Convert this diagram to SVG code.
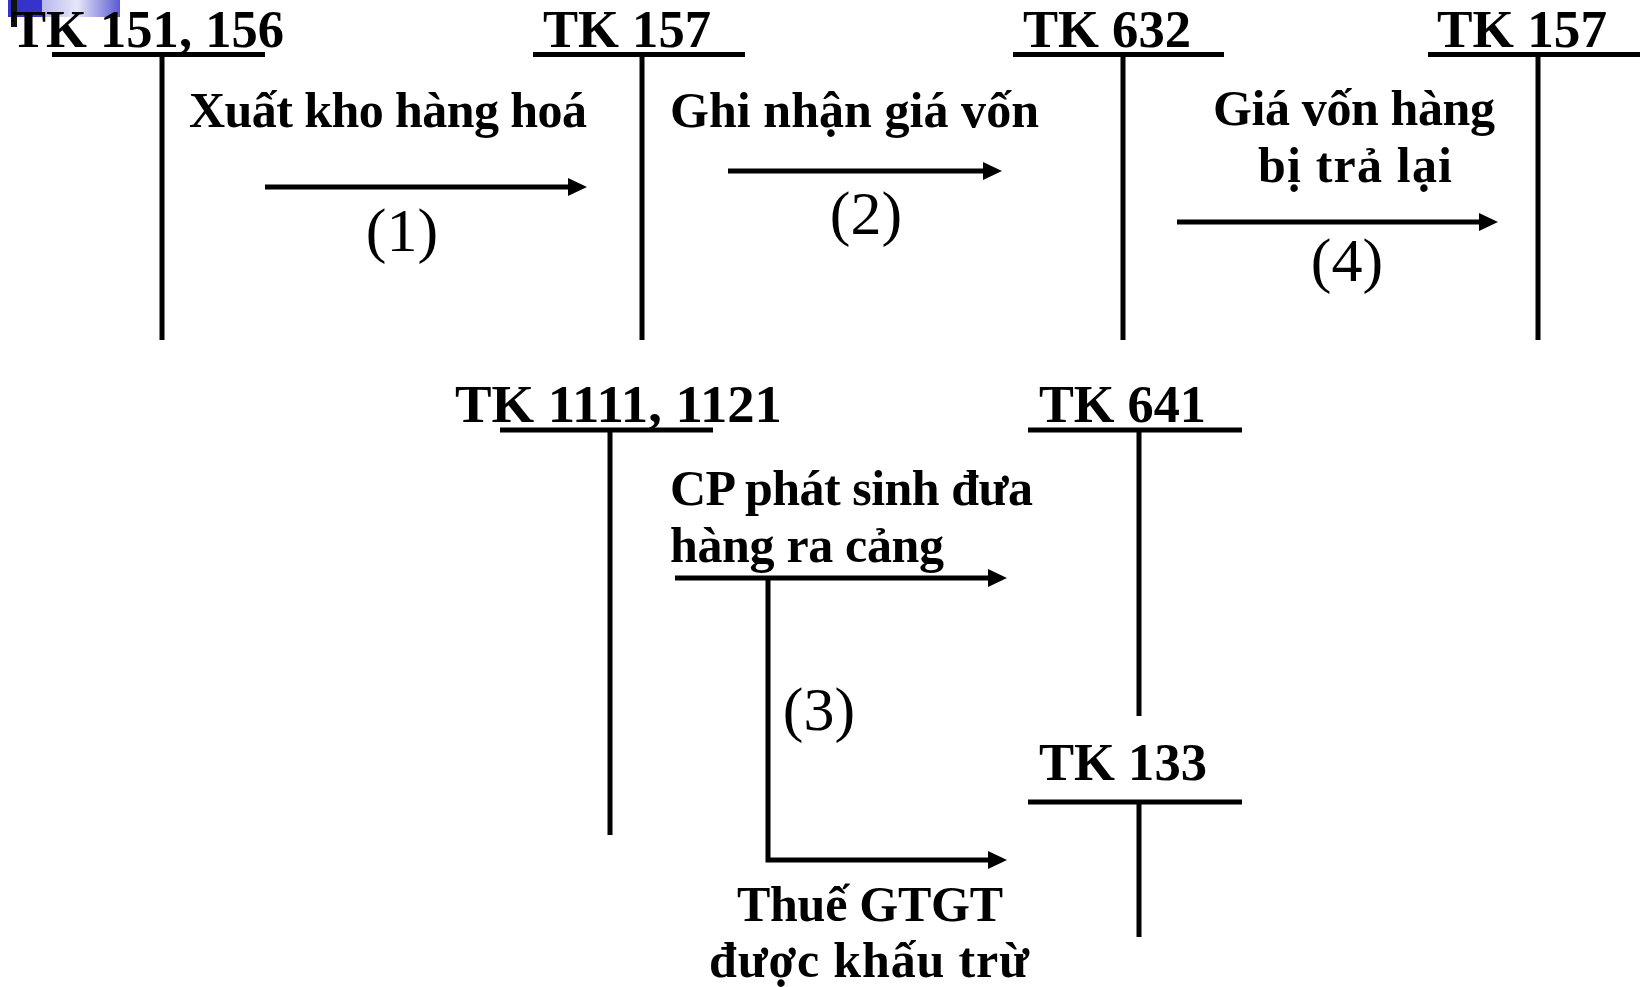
<svg xmlns="http://www.w3.org/2000/svg" width="1650" height="987" viewBox="0 0 1650 987">
  <style>
    .title { font-family: "Liberation Serif", "Times New Roman", serif; font-weight: bold; font-size: 53px; fill: #000; }
    .label { font-family: "Liberation Serif", "Times New Roman", serif; font-weight: bold; font-size: 50px; fill: #000; }
    .num { font-family: "Liberation Serif", "Times New Roman", serif; font-size: 62px; fill: #000; }
    .acct { stroke: #000; stroke-width: 5; fill: none; }
    .conn { stroke: #000; stroke-width: 5; fill: none; }
  </style>
  <defs>
    <marker id="arrow" markerUnits="userSpaceOnUse" markerWidth="20" markerHeight="18" refX="0" refY="9" orient="auto">
      <path d="M0,0 L19,9 L0,18 z" fill="#000"/>
    </marker>
    <linearGradient id="icongrad" x1="0" y1="0" x2="1" y2="0">
      <stop offset="0" stop-color="#b8b8ec"/>
      <stop offset="0.45" stop-color="#e6e6f8"/>
      <stop offset="1" stop-color="#5a5ad4"/>
    </linearGradient>
  </defs>
  <rect width="1650" height="987" fill="#fff"/>

  <!-- decorative icon top-left -->
  <g id="icon">
    <rect x="8" y="0" width="34" height="17" fill="#3434cc"/>
    <rect x="42" y="0" width="78" height="17" fill="url(#icongrad)"/>
    <rect x="11" y="0" width="6" height="27" fill="#111"/>
  </g>

  <g id="tk151">
    <text class="title" x="11" y="47" textLength="273" lengthAdjust="spacingAndGlyphs">TK 151, 156</text>
    <path class="acct" d="M52,54.5 H265 M162,54.5 V340"/>
  </g>
  <g id="tk157a">
    <text class="title" x="543" y="47" textLength="168" lengthAdjust="spacingAndGlyphs">TK 157</text>
    <path class="acct" d="M533,54.5 H745 M642,54.5 V340"/>
  </g>
  <g id="tk632">
    <text class="title" x="1023" y="47" textLength="168" lengthAdjust="spacingAndGlyphs">TK 632</text>
    <path class="acct" d="M1013,54.5 H1224 M1123,54.5 V340"/>
  </g>
  <g id="tk157b">
    <text class="title" x="1437" y="47" textLength="170" lengthAdjust="spacingAndGlyphs">TK 157</text>
    <path class="acct" d="M1428,54.5 H1640 M1538,54.5 V340"/>
  </g>
  <g id="tk1111">
    <text class="title" x="455" y="422" textLength="327" lengthAdjust="spacingAndGlyphs">TK 1111, 1121</text>
    <path class="acct" d="M500,430 H713 M610,430 V835"/>
  </g>
  <g id="tk641">
    <text class="title" x="1039" y="422" textLength="167" lengthAdjust="spacingAndGlyphs">TK 641</text>
    <path class="acct" d="M1028,430 H1242 M1139,430 V716"/>
  </g>
  <g id="tk133">
    <text class="title" x="1039" y="780" textLength="168" lengthAdjust="spacingAndGlyphs">TK 133</text>
    <path class="acct" d="M1028,802 H1242 M1139,802 V937"/>
  </g>

  <g id="connectors">
    <path class="conn" d="M265,187 H568" marker-end="url(#arrow)"/>
    <path class="conn" d="M728,171 H983" marker-end="url(#arrow)"/>
    <path class="conn" d="M1177,222 H1479" marker-end="url(#arrow)"/>
    <path class="conn" d="M675,578 H988" marker-end="url(#arrow)"/>
    <path class="conn" d="M768,578 V860 H988" marker-end="url(#arrow)"/>
  </g>

  <g id="labels">
    <text class="label" x="189" y="127" textLength="398" lengthAdjust="spacing">Xuất kho hàng hoá</text>
    <text class="num" x="402" y="251" text-anchor="middle">(1)</text>
    <text class="label" x="670" y="127" textLength="369" lengthAdjust="spacing">Ghi nhận giá vốn</text>
    <text class="num" x="866" y="234" text-anchor="middle">(2)</text>
    <text class="label" x="1213" y="125" textLength="282" lengthAdjust="spacing">Giá vốn hàng</text>
    <text class="label" x="1258" y="182" textLength="194" lengthAdjust="spacing">bị trả lại</text>
    <text class="num" x="1347" y="281" text-anchor="middle">(4)</text>
    <text class="label" x="670" y="505" textLength="363" lengthAdjust="spacing">CP phát sinh đưa</text>
    <text class="label" x="670" y="562" textLength="274" lengthAdjust="spacing">hàng ra cảng</text>
    <text class="num" x="819" y="730" text-anchor="middle">(3)</text>
    <text class="label" x="737" y="921" textLength="266" lengthAdjust="spacing">Thuế GTGT</text>
    <text class="label" x="709" y="977" textLength="320" lengthAdjust="spacing">được khấu trừ</text>
  </g>
</svg>
